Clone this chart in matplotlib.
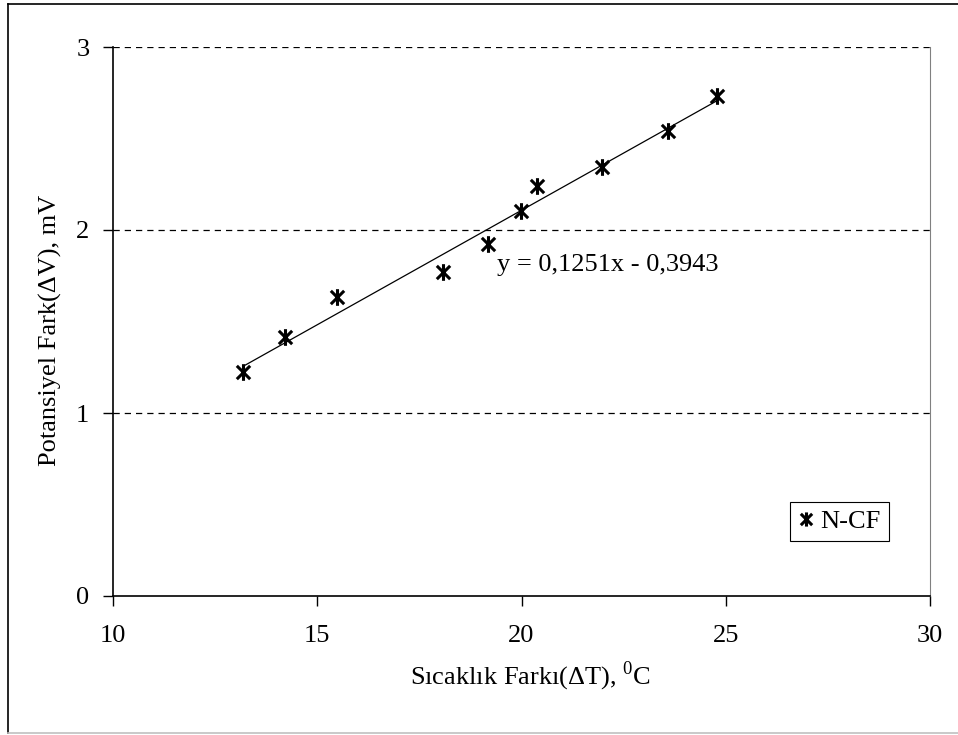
import matplotlib
matplotlib.use("Agg")
import matplotlib.pyplot as plt
from matplotlib.lines import Line2D
from matplotlib.path import Path
import numpy as np

plt.rcParams['font.family'] = ['Liberation Serif', 'DejaVu Serif']
plt.rcParams['mathtext.fontset'] = 'custom'
plt.rcParams['mathtext.rm'] = 'Liberation Serif'

dT = [13.18, 14.20, 15.48, 18.08, 19.19, 19.98, 20.38, 21.97, 23.59, 24.79]
dV = [1.222, 1.417, 1.635, 1.769, 1.923, 2.105, 2.240, 2.344, 2.541, 2.732]
slope = 0.1251
intercept = -0.3943
series_name = "N-CF"
xticks = [10, 15, 20, 25, 30]
yticks = [0, 1, 2, 3]

fs = 19
fig = plt.figure(figsize=(9.58, 7.35), dpi=100)
W, H = 958, 735
ax = fig.add_axes([113 / W, 1 - 596 / H, (930 - 113) / W, (596 - 47) / H])

# Excel-style star marker: X with a vertical bar
star = Path([(-0.8, -0.8), (0.8, 0.8), (-0.8, 0.8), (0.8, -0.8), (0, -1), (0, 1)],
            [Path.MOVETO, Path.LINETO, Path.MOVETO, Path.LINETO, Path.MOVETO, Path.LINETO])
ax.plot(dT, dV, linestyle='none', marker=star, markersize=12, markeredgewidth=2.2,
        color='black', label=series_name, zorder=3)
xs = np.array([min(dT), max(dT)])
ax.plot(xs, slope * xs + intercept, color='black', linewidth=0.9, zorder=2)

ax.set_xlim(10, 30)
ax.set_ylim(0, 3)
ax.set_xticks(xticks)
ax.set_yticks(yticks)
ax.tick_params(axis='both', direction='out', length=7, width=1, labelsize=fs, colors='black')
ax.tick_params(axis='x', pad=14)
ax.tick_params(axis='y', pad=10)
for y in yticks[1:]:
    ax.axhline(y, color='black', linestyle=(0, (5, 4)), linewidth=0.9, zorder=1)
ax.spines['top'].set_visible(False)
ax.spines['right'].set_color('#808080')
ax.spines['left'].set_linewidth(1.2)
ax.spines['bottom'].set_linewidth(1.2)

ax.set_xlabel(r'Sıcaklık Farkı(ΔT), $^{0}$C', fontsize=fs)
ax.xaxis.set_label_coords((530 - 113) / 817, -(660 - 596) / 549)
ax.set_ylabel('Potansiyel Fark(ΔV), mV', fontsize=fs)
ax.yaxis.set_label_coords(-(113 - 62) / 817, (596 - 330) / 549)

ax.text(19.4, 1.81, 'y = 0,1251x - 0,3943', fontsize=fs, ha='left', va='center')

leg = ax.legend(loc='lower right', frameon=True, borderaxespad=0,
                fontsize=fs, handlelength=0.55, handletextpad=0.3, borderpad=0.3,
                markerscale=0.85,
                fancybox=False, edgecolor='black', framealpha=1)
leg.get_frame().set_linewidth(0.8)
leg.set_bbox_to_anchor(((889 - 113) / 817, (596 - 541) / 549), transform=ax.transAxes)

# figure border
fig.add_artist(Line2D([8 / W, 8 / W], [1 - 4 / H, 1 - 733 / H], color='black', linewidth=1.2, transform=fig.transFigure))
fig.add_artist(Line2D([8 / W, 1], [1 - 4 / H, 1 - 4 / H], color='black', linewidth=1.2, transform=fig.transFigure))
fig.add_artist(Line2D([8 / W, 1], [1 - 733 / H, 1 - 733 / H], color='#c0c0c0', linewidth=1.2, transform=fig.transFigure))

fig.savefig('out.png', dpi=100)
